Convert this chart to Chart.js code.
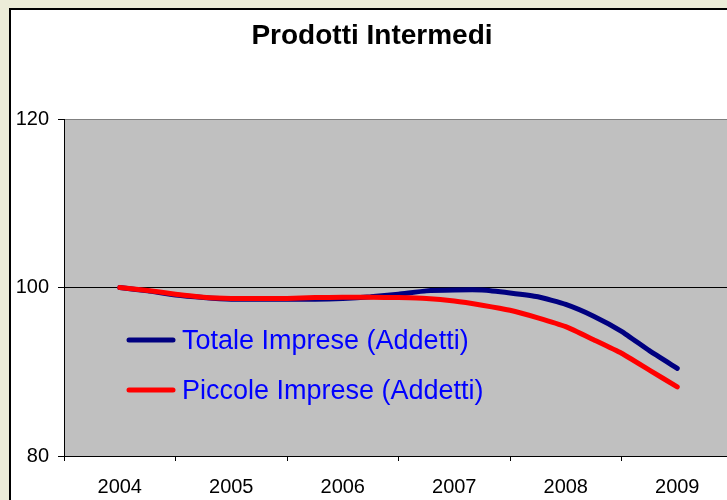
<!DOCTYPE html>
<html>
<head>
<meta charset="utf-8">
<script src="https://cdn.jsdelivr.net/npm/chart.js@4"></script>
<style>
  html, body { margin: 0; padding: 0; width: 727px; height: 500px; overflow: hidden; background: #ECECD8; }
  #frame { position: absolute; left: 9px; top: 8px; width: 800px; height: 520px; background: #FFFFFF;
           border-left: 2px solid #000; border-top: 2px solid #000; }
  #c { position: absolute; left: 0; top: 0; }
</style>
</head>
<body>
<div id="frame"><canvas id="c" width="726" height="490"></canvas></div>
<script>
// ---- data ----
const title = 'Prodotti Intermedi';
const yearLabels = [2004, 2005, 2006, 2007, 2008, 2009];
const periods = [2004, 2004.25, 2004.5, 2004.75, 2005, 2005.25, 2005.5, 2005.75,
                 2006, 2006.25, 2006.5, 2006.75, 2007, 2007.25, 2007.5, 2007.75,
                 2008, 2008.25, 2008.5, 2008.75, 2009];
const totaleLabel = 'Totale Imprese (Addetti)';
const totale = [100.0, 99.6, 99.1, 98.8, 98.6, 98.6, 98.6, 98.6,
                98.7, 98.9, 99.2, 99.6, 99.7, 99.7, 99.35, 98.9,
                98.0, 96.6, 94.8, 92.5, 90.4];
const piccoleLabel = 'Piccole Imprese (Addetti)';
const piccole = [100.0, 99.65, 99.2, 98.85, 98.7, 98.7, 98.7, 98.8,
                 98.85, 98.85, 98.8, 98.7, 98.4, 97.9, 97.3, 96.4,
                 95.35, 93.8, 92.2, 90.2, 88.2];
const yTicks = [80, 100, 120];

const FONT = "'Liberation Sans', Arial, sans-serif";
const toPts = (xs, ys) => xs.map((x, i) => ({ x: x, y: ys[i] }));

const plotBg = {
  id: 'plotBg',
  beforeDraw(chart) {
    const { ctx, chartArea: a } = chart;
    ctx.save();
    ctx.fillStyle = '#C0C0C0';
    ctx.fillRect(a.left, a.top, a.right - a.left, a.bottom - a.top);
    ctx.restore();
  }
};

const innerLegend = {
  id: 'innerLegend',
  afterDraw(chart) {
    const { ctx, chartArea: a } = chart;
    const items = [chart.data.datasets[1], chart.data.datasets[0]];
    ctx.save();
    ctx.font = '27px ' + FONT;
    ctx.textBaseline = 'middle';
    ctx.textAlign = 'left';
    items.forEach((ds, i) => {
      const y = a.top + 221 + i * 50;
      ctx.strokeStyle = ds.borderColor;
      ctx.lineWidth = 5;
      ctx.lineCap = 'round';
      ctx.beginPath();
      ctx.moveTo(a.left + 65, y);
      ctx.lineTo(a.left + 109, y);
      ctx.stroke();
      ctx.fillStyle = '#0000FF';
      ctx.fillText(ds.label, a.left + 118, y + 2);
    });
    ctx.restore();
  }
};

const isInt = v => Math.abs(v - Math.round(v)) < 1e-6;

new Chart(document.getElementById('c'), {
  type: 'line',
  data: {
    datasets: [
      { label: piccoleLabel, data: toPts(periods, piccole), borderColor: '#FF0000',
        borderWidth: 5, pointRadius: 0, tension: 0.15, borderCapStyle: 'round', borderJoinStyle: 'round', order: 0 },
      { label: totaleLabel, data: toPts(periods, totale), borderColor: '#000080',
        borderWidth: 5, pointRadius: 0, tension: 0.15, borderCapStyle: 'round', borderJoinStyle: 'round', order: 1 }
    ]
  },
  options: {
    responsive: false,
    animation: false,
    devicePixelRatio: 1,
    layout: { padding: { left: 0, right: 4, top: 0, bottom: 0 } },
    plugins: {
      legend: { display: false },
      tooltip: { enabled: false },
      title: {
        display: true, text: title, color: '#000',
        font: { family: FONT, size: 28, weight: 'bold', lineHeight: 1.2 },
        padding: { top: 9, bottom: 66.4 }
      }
    },
    scales: {
      x: {
        type: 'linear',
        min: yearLabels[0] - 0.5,
        max: yearLabels[yearLabels.length - 1] + 0.5,
        afterFit(s) { s.height = 44; s.paddingLeft = 0; s.paddingRight = 0; },
        ticks: {
          stepSize: 0.5, autoSkip: false, maxRotation: 0, padding: 14,
          color: '#000', font: { family: FONT, size: 20 },
          callback: v => (isInt(v) && yearLabels.includes(Math.round(v))) ? String(Math.round(v)) : ''
        },
        grid: {
          drawOnChartArea: false, drawTicks: true, tickLength: 5,
          color: c => (c.tick && isInt(c.tick.value)) ? 'rgba(0,0,0,0)' : '#000',
          tickColor: c => (c.tick && isInt(c.tick.value)) ? 'rgba(0,0,0,0)' : '#000'
        },
        border: { display: true, color: '#000', width: 1 }
      },
      y: {
        min: yTicks[0], max: yTicks[yTicks.length - 1],
        afterFit(s) { s.width = 53; },
        afterBuildTicks(s) { s.ticks = yTicks.map(v => ({ value: v })); },
        ticks: { padding: 9, color: '#000', font: { family: FONT, size: 20 } },
        grid: {
          tickLength: 6, lineWidth: 1,
          color: c => c.tick.value === 120 ? '#808080' : (c.tick.value === 80 ? 'rgba(0,0,0,0)' : '#000'),
          tickColor: '#000'
        },
        border: { display: true, color: '#000', width: 1 }
      }
    }
  },
  plugins: [plotBg, innerLegend]
});
</script>
</body>
</html>
